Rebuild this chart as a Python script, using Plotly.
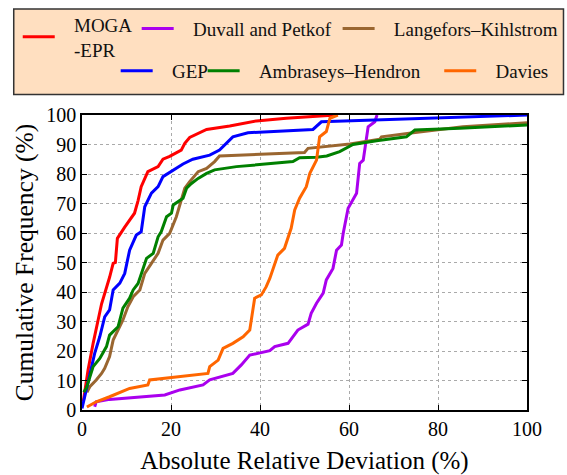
import plotly.graph_objects as go

# Cumulative frequency curves of absolute relative deviation (%) for each model
moga_x = [0.3, 1.35, 2.5, 4.4, 6.2, 7.0, 7.5, 7.95, 9.6, 11.8, 12.6, 13.3, 14.8, 17.1, 18.2, 19.7,
          22.3, 23.1, 24.2, 26.1, 28, 33.2, 39.2, 45.9, 53.4, 57]
moga_y = [3, 13.5, 22.6, 36, 45, 49.7, 50, 58.2, 62, 66.7, 71, 75.7, 80.8, 82.5, 85, 86,
          88.1, 90.4, 92.4, 93.8, 95.1, 96.3, 98, 98.9, 99.7, 100]

gep_x = [0, 1, 2.85, 4, 5.1, 6.2, 7, 8.5, 9.6, 10.7, 12.2, 13.3, 14.1, 15.6, 17.1, 18.2, 20.1,
         22.7, 24.9, 28.7, 30.9, 33.9, 37.3, 51.9, 53.8, 100]
gep_y = [0.5, 6.8, 19.2, 24.9, 31.6, 33.9, 40.7, 43, 46.3, 54.2, 59.3, 60.4, 68.9, 73.5, 75.7,
         79.1, 81, 83.4, 85, 86.4, 88.1, 92.6, 94, 95.1, 97.7, 100]

duvall_x = [2.85, 3.2, 6.2, 18.6, 22, 27.2, 28.7, 33.9, 35.8, 37.7, 42.2, 43.3, 46.3, 48.5, 50.8,
            51.5, 52.7, 54.2, 54.9, 56.4, 57.2, 58.3, 58.7, 59.8, 61.7, 62.4, 63.2, 64.3, 65.8, 66.3]
duvall_y = [1.1, 2.8, 3.6, 5.1, 6.8, 8.5, 10.2, 12.4, 15.3, 18.6, 20.1, 21.5, 22.6, 27.1, 29.1,
            32.8, 36.2, 39.6, 44.1, 48, 54.2, 55.9, 59.9, 68.4, 73.5, 83.6, 84.7, 96, 97.7, 100]

ambraseys_x = [0.4, 1, 2.5, 4, 5.5, 6.2, 8.1, 9.2, 10.7, 11.5, 12.6, 13.3, 14.5, 16, 17.1, 17.8,
               19, 20.1, 20.5, 22.7, 23.5, 24.6, 26.1, 28, 29.8, 34.7, 47.4, 48.9, 52.7, 55, 57.9,
               60.9, 66.2, 72.9, 74.8, 84.9, 100]
ambraseys_y = [6, 7.5, 14.7, 17.5, 21.5, 25.4, 28.2, 34.5, 37.9, 40.7, 42.9, 46.3, 51.4, 53.1,
               58.7, 60.4, 65.5, 66.7, 69.5, 71.8, 75.2, 76.8, 78.5, 80.2, 81.4, 82.5, 84.2, 85.5,
               85.7, 86.1, 87.6, 90, 91.3, 92.6, 94.9, 95.5, 96.6]

langefors_x = [1.1, 1.75, 3.2, 4.4, 5.1, 6.2, 7, 8.1, 9.2, 10.3, 11.5, 13, 14.1, 15.6, 17.1, 18.2,
               19.7, 21.2, 21.9, 23.1, 24.2, 26.1, 28, 29.8, 30.9, 50, 50.8, 60.2, 66.9, 67.3,
               74.4, 85.6, 100]
langefors_y = [6, 7.9, 10.2, 12.4, 14.1, 18.1, 23.7, 27.1, 30.5, 35, 38.4, 40.7, 46.3, 49.7, 53.1,
               57.6, 59.9, 65.5, 68.9, 75.2, 77.4, 80.8, 81.9, 84.2, 86.1, 87.3, 88.7, 90.2, 91.8,
               92.6, 94, 96, 97.4]

davies_x = [1.1, 3.2, 6.2, 10.7, 14.8, 15.2, 28.3, 28.7, 30.6, 31.7, 33.9, 36.2, 37.7, 38.3, 38.8,
            40.3, 41.4, 42.2, 42.9, 44, 45.5, 46.3, 47, 47.8, 48.9, 50.4, 51.2, 52.7, 53.4, 54.9,
            55.7, 57.5]
davies_y = [1, 2.8, 4.5, 7.3, 8.5, 10.2, 12.4, 14.7, 16.9, 20.9, 22.6, 24.8, 27.1, 32.8, 37.9,
            39, 41.8, 44.6, 47.5, 52.5, 54.8, 58.7, 61.6, 67.8, 71.8, 75.7, 80.2, 84.7, 92.6, 94.4,
            98.9, 100]

x_ticks = [0, 20, 40, 60, 80, 100]
y_ticks = [0, 10, 20, 30, 40, 50, 60, 70, 80, 90, 100]

FONT = "Times New Roman, Liberation Serif, Tinos, serif"
PAD = "\u00a0\u00a0\u00a0"  # space between legend key and its label

# name, x, y, colour, legend id, legend anchor (paper x, paper y)
series = [
    (PAD + "MOGA<br>" + PAD + "-EPR", moga_x, moga_y, "#ff0000", "legend", (-0.1444, 1.371)),
    (PAD + "Duvall and Petkof", duvall_x, duvall_y, "#aa00ee", "legend2", (0.1229, 1.357)),
    (PAD + "Langefors–Kihlstrom", langefors_x, langefors_y, "#9a6630", "legend3", (0.5744, 1.357)),
    (PAD + "GEP", gep_x, gep_y, "#0000ff", "legend4", (0.0757, 1.214)),
    (PAD + "Ambraseys–Hendron", ambraseys_x, ambraseys_y, "#008000", "legend5", (0.2711, 1.214)),
    (PAD + "Davies", davies_x, davies_y, "#ff6600", "legend6", (0.8028, 1.214)),
]

fig = go.Figure()
legends = {}
for name, xs, ys, color, leg, (lx, ly) in series:
    fig.add_trace(go.Scatter(x=xs, y=ys, mode="lines", name=name, legend=leg, showlegend=True,
                             line=dict(color=color, width=3)))
    legends[leg] = dict(x=lx, y=ly, xanchor="left", yanchor="top", xref="paper", yref="paper",
                        bgcolor="rgba(0,0,0,0)", borderwidth=0, itemwidth=32, valign="middle",
                        font=dict(family=FONT, size=19, color="#111111"))

fig.update_layout(showlegend=True, **legends)

# legend frame
fig.add_shape(type="rect", xref="paper", yref="paper", x0=-0.1534, x1=1.082, y0=1.0695, y1=1.359,
              fillcolor="#ffdfc0", line=dict(color="#333333", width=1.5), layer="below")

axis_common = dict(
    showline=True, linecolor="black", linewidth=1.5, mirror="ticks",
    ticks="inside", ticklen=5, tickcolor="black",
    showgrid=True, gridcolor="#aaaaaa", gridwidth=1, griddash="3px,3px",
    zeroline=False, tickfont=dict(family=FONT, size=20, color="black"),
)

fig.update_xaxes(range=[0, 100], tickvals=x_ticks, **axis_common,
                 title=dict(text="Absolute Relative Deviation (%)",
                            font=dict(family=FONT, size=25, color="black"), standoff=17))
fig.update_yaxes(range=[0, 100], tickvals=y_ticks, **axis_common,
                 title=dict(text="Cumulative Frequency (%)",
                            font=dict(family=FONT, size=25.5, color="black"), standoff=5))

fig.update_layout(
    width=567, height=475,
    margin=dict(l=82, r=40, t=115, b=65, autoexpand=False),
    paper_bgcolor="white", plot_bgcolor="white",
    font=dict(family=FONT),
)

fig.write_html("out.html")
